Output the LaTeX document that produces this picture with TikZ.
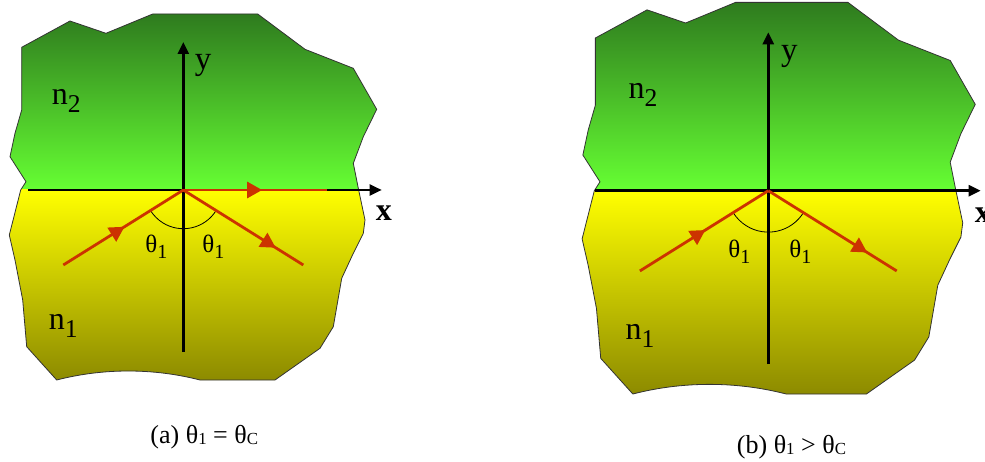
\documentclass[tikz,border=0pt]{standalone}
\usepackage{fontspec}
\setmainfont{Liberation Serif}
\usetikzlibrary{arrows.meta, decorations.markings}
\definecolor{rayRed}{HTML}{CC3300}
\definecolor{darkGreen}{HTML}{2E7A1E}
\definecolor{lightGreen}{HTML}{66FF33}
\definecolor{lightYellow}{HTML}{FFFF00}
\definecolor{oliveYellow}{HTML}{8C8A00}
\definecolor{edgeGray}{HTML}{333333}

% lowered index for n_1, theta_1 ...; small index on the baseline for captions
\newcommand{\lowsub}[1]{\raisebox{-0.25em}{\scalebox{0.8}{#1}}}
\newcommand{\capsub}[1]{\raisebox{-0.05em}{\scalebox{0.65}{#1}}}

% ragged outline of the two media, origin at the point of incidence
\newcommand{\mediumoutline}{(-161.6,-142.7) -- (-113.3,-169) -- (-77.3,-156.7) -- (-30.6,-176) -- (74.4,-176) -- (121.7,-140.7) -- (170,-121.7) -- (193.4,-80.7) -- (180,-53.3) -- (170,-26.7) -- (175,-1.7) -- (181.7,30) -- (180,43.3) -- (170,63.3) -- (158.4,88.3) -- (150,136.7) -- (136.7,158.3) -- (91.7,190) -- (16.7,190) .. controls (-30,178) and (-80,178) .. (-126.6,190) -- (-156.6,156.7) -- (-160.6,110) -- (-168.3,70) -- (-174,45) -- (-162.6,0) -- (-157.3,-8.3) -- (-173.3,-33.3) -- (-168.3,-56.7) -- (-161.6,-80) -- cycle}

\tikzset{
  slabedge/.style={draw=edgeGray, line width=0.8pt},
  axisline/.style={line width=2.5pt, -{Triangle[length=12pt, width=11pt]}},
  ray/.style={rayRed, line width=2.8pt},
  raymark/.style={postaction={decorate, decoration={markings,
      mark=at position #1 with {\arrow{Triangle[length=15pt, width=16pt]}}}}},
  anglearc/.style={line width=0.8pt},
  medlabel/.style={font=\fontsize{32}{35}\selectfont},
  anglelabel/.style={font=\fontsize{25}{28}\selectfont},
  axislabel/.style={font=\fontsize{33}{36}\selectfont},
  caption/.style={font=\fontsize{26}{30}\selectfont}
}

\begin{document}
\begin{tikzpicture}[x=1pt, y=-1pt]
\useasboundingbox (0,0) rectangle (985,462);

% the two panels: name / origin / scale / start of x axis
\foreach \p/\sx/\sy/\sc/\xs in {a/183.3/190/1/-155, b/768.3/190.7/1.07/-162} {
  \begin{scope}[shift={(\sx,\sy)}, scale=\sc]
    % media n2 (top) and n1 (bottom)
    \begin{scope}
      \clip \mediumoutline;
      \shade[top color=darkGreen, bottom color=lightGreen] (-180,-177) rectangle (200,0);
      \shade[top color=lightYellow, bottom color=oliveYellow] (-180,0) rectangle (200,191);
    \end{scope}
    \draw[slabedge] \mediumoutline;

    \coordinate (\p-O) at (0,0);
    \coordinate (\p-xs) at (\xs,0);
    \coordinate (\p-xe) at (198.4,0);
    \coordinate (\p-ys) at (0,162);
    \coordinate (\p-ye) at (0,-148);
    \coordinate (\p-in) at (-120,75);
    \coordinate (\p-out) at (120,75);
    \coordinate (\p-along) at (143.4,0);
    \coordinate (\p-arc) at (32:38.7);

    % axes
    \draw[axisline] (\p-xs) -- (\p-xe);
    \draw[axisline] (\p-ys) -- (\p-ye);

    % incident and reflected rays
    \draw[anglearc] (\p-arc) arc[start angle=32, end angle=148, radius=38.7];
    \draw[ray, raymark=0.51] (\p-in) -- (\p-O);
    \draw[ray, raymark=0.77] (\p-O) -- (\p-out);

    % labels
    \node[medlabel] (\p-n2) at (-117,-89.5) {n\lowsub{2}};
    \node[medlabel] (\p-n1) at (-120,136) {n\lowsub{1}};
    \node[anglelabel] (\p-th1) at (-27,57) {θ\lowsub{1}};
    \node[anglelabel] (\p-th2) at (30,57) {θ\lowsub{1}};
    \node[axislabel] (\p-ylab) at (19.7,-125) {y};
    \node[axislabel, font=\fontsize{32}{36}\selectfont\bfseries] (\p-xlab) at (200.5,23.3) {x};
  \end{scope}
}

% grazing ray along the interface, panel (a) only
\draw[ray, raymark=0.55] (a-O) -- (a-along);

% captions
\node[caption] (capA) at (204.3,437) {(a) θ\capsub{1} = θ\capsub{C}};
\node[caption] (capB) at (791.5,446.7) {(b) θ\capsub{1} > θ\capsub{C}};
\end{tikzpicture}
\end{document}
